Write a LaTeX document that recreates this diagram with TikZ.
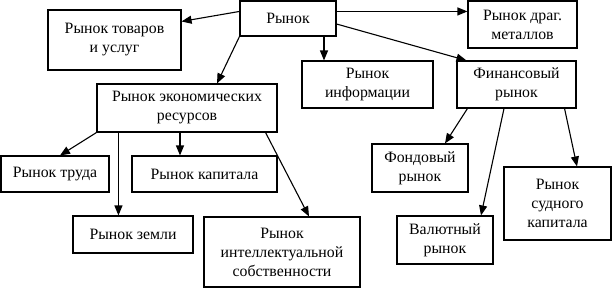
\documentclass[tikz,border=0pt]{standalone}
\usepackage{fontspec}
\setmainfont{Liberation Serif}
\usetikzlibrary{arrows.meta}
\begin{document}
\begin{tikzpicture}[x=1pt,y=-1pt,
  box/.style={draw,line width=1.1pt,align=center,inner sep=0pt,font=\fontsize{15.8}{19}\selectfont},
  arr/.style={line width=1.1pt,-{Triangle[length=10pt,width=8pt]}}]
\useasboundingbox (0,0) rectangle (613,289);
\node[box,minimum width=96pt,minimum height=35pt] (rynok) at (288,18.5) {Рынок};
\node[box,minimum width=133pt,minimum height=60pt] (tovary) at (114.5,40) {Рынок товаров\\и услуг};
\node[box,minimum width=109pt,minimum height=47pt] (drag) at (522.5,24.5) {Рынок драг.\\металлов};
\node[box,minimum width=131pt,minimum height=47pt] (info) at (367.5,84.5) {Рынок\\информации};
\node[box,minimum width=119pt,minimum height=47pt] (fin) at (516.5,84.5) {Финансовый\\рынок};
\node[box,minimum width=180pt,minimum height=48pt] (econ) at (187,108) {Рынок экономических\\ресурсов};
\node[box,minimum width=108pt,minimum height=36pt] (trud) at (55,174) {Рынок труда};
\node[box,minimum width=145pt,minimum height=36pt] (kap) at (204.5,174) {Рынок капитала};
\node[box,minimum width=120pt,minimum height=37pt] (zem) at (133,234.5) {Рынок земли};
\node[box,minimum width=156pt,minimum height=70pt] (intel) at (282,252) {Рынок\\интеллектуальной\\собственности};
\node[box,minimum width=96pt,minimum height=48pt] (fond) at (420,168) {Фондовый\\рынок};
\node[box,minimum width=96pt,minimum height=48pt] (val) at (445,240) {Валютный\\рынок};
\node[box,minimum width=107pt,minimum height=73pt] (sud) at (557.5,203.5) {Рынок\\судного\\капитала};
\draw[arr] ([yshift=-11pt]rynok.north west) -- ([yshift=-12pt]tovary.north east);
\draw[arr] ([yshift=-11pt]rynok.north east) -- ([yshift=-11pt]drag.north west);
\draw[arr] (rynok.south west) -- ([xshift=30pt]econ.north);
\draw[arr] ([xshift=36pt]rynok.south) -- ([xshift=36pt]rynok.south |- info.north);
\draw[arr] ([yshift=-5.5pt]rynok.east) -- ([xshift=10pt]fin.north west);
\draw[arr] (econ.south west) -- ([xshift=5pt]trud.north);
\draw[arr] ([xshift=22pt]econ.south west) -- ([xshift=22pt]econ.south west |- zem.north);
\draw[arr] ([xshift=-7pt]econ.south) -- ([xshift=-7pt]econ.south |- kap.north);
\draw[arr] ([xshift=-12pt]econ.south east) -- ([xshift=27pt]intel.north);
\draw[arr] ([xshift=11pt]fin.south west) -- ([xshift=25pt]fond.north);
\draw[arr] ([xshift=-12.5pt]fin.south) -- ([xshift=36pt]val.north);
\draw[arr] ([xshift=-12pt]fin.south east) -- ([xshift=19.5pt]sud.north);
\end{tikzpicture}
\end{document}
